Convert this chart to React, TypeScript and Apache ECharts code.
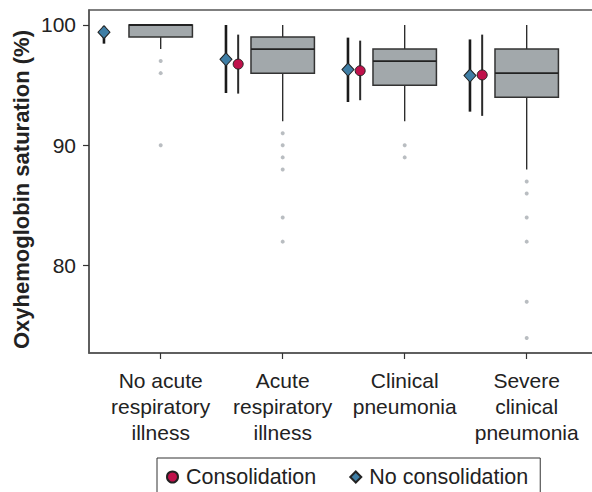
import React, { useEffect, useRef } from "react";
import * as echarts from "echarts";

const categories = [
  "No acute\nrespiratory\nillness",
  "Acute\nrespiratory\nillness",
  "Clinical\npneumonia",
  "Severe\nclinical\npneumonia",
];
const boxLow = [98, 92, 92, 88];
const boxQ1 = [99, 96, 95, 94];
const boxMedian = [100, 98, 97, 96];
const boxQ3 = [100, 99, 98, 98];
const boxHigh = [100, 100, 100, 100];
const outliers = [
  [97, 96, 90],
  [91, 90, 89, 88, 84, 82],
  [90, 89],
  [87, 86, 84, 82, 77, 74],
];
const consolidationMean = [null, 96.75, 96.2, 95.85];
const consolidationLow = [null, 94.3, 93.75, 92.45];
const consolidationHigh = [null, 99.2, 98.7, 99.2];
const noConsolidationMean = [99.4, 97.15, 96.3, 95.8];
const noConsolidationLow = [98.45, 94.35, 93.6, 92.8];
const noConsolidationHigh = [99.9, 100, 98.95, 98.8];
const yTicks = [80, 90, 100];
const yAxisTitle = "Oxyhemoglobin saturation (%)";

const FONT = "'Liberation Sans', Arial, Helvetica, sans-serif";
const DIAMOND_OFFSET = -0.465;
const CIRCLE_OFFSET = -0.365;
const BOX_WIDTH = 0.52;
const CIRCLE_COLOR = "#c0114b";
const DIAMOND_COLOR = "#3f7ea5";

export default function App() {
  const ref = useRef<HTMLDivElement>(null);
  useEffect(() => {
    if (!ref.current) return;
    const chart = echarts.init(ref.current, null, { renderer: "svg" });

    const boxData = categories.map((_, i) => [
      i,
      boxLow[i],
      boxQ1[i],
      boxMedian[i],
      boxQ3[i],
      boxHigh[i],
    ]);
    const outlierData: number[][] = [];
    outliers.forEach((arr, i) => arr.forEach((v) => outlierData.push([i, v])));

    const consData: any[] = [];
    const consBars: any[] = [];
    consolidationMean.forEach((m, i) => {
      if (m == null) return;
      consData.push([i + CIRCLE_OFFSET, m]);
      consBars.push([i + CIRCLE_OFFSET, consolidationLow[i], consolidationHigh[i]]);
    });
    const noConsData: any[] = [];
    const noConsBars: any[] = [];
    noConsolidationMean.forEach((m, i) => {
      noConsData.push([i + DIAMOND_OFFSET, m]);
      noConsBars.push([i + DIAMOND_OFFSET, noConsolidationLow[i], noConsolidationHigh[i]]);
    });

    const errRender = (width: number, color: string) => (params: any, api: any) => {
      const x = api.value(0);
      const a = api.coord([x, api.value(1)]);
      const b = api.coord([x, api.value(2)]);
      return {
        type: "line",
        shape: { x1: a[0], y1: a[1], x2: b[0], y2: b[1] },
        style: { stroke: color, lineWidth: width },
      };
    };

    const xMin = -0.5877;
    const xMax = 3.5598;

    chart.setOption({
      animation: false,
      textStyle: { fontFamily: FONT },
      grid: {
        left: 89,
        right: -3,
        top: 10,
        bottom: 139,
        show: true,
        borderColor: "#555",
        borderWidth: 1.5,
        backgroundColor: "transparent",
        outerBoundsMode: "none",
        containLabel: false,
      },
      graphic: [
        {
          type: "text",
          x: 21,
          y: 189.5,
          rotation: Math.PI / 2,
          style: {
            text: yAxisTitle,
            font: `bold 22px ${FONT}`,
            fill: "#222",
            align: "center",
            verticalAlign: "middle",
          },
        },
      ],
      legend: {
        left: 157,
        top: 458,
        orient: "horizontal",
        borderColor: "#333",
        borderWidth: 1,
        padding: [8, 12, 14, 9],
        itemGap: 33,
        itemWidth: 11,
        itemHeight: 11,
        textStyle: { fontSize: 21.5, color: "#222", fontFamily: FONT, padding: [0, 0, 0, 3] },
        data: [
          { name: "Consolidation", icon: "circle" },
          { name: "No consolidation", icon: "diamond" },
        ],
      },
      xAxis: {
        type: "value",
        min: xMin,
        max: xMax,
        splitLine: { show: false },
        axisLine: { show: true, onZero: false, lineStyle: { color: "#555", width: 1.5 } },
        axisTick: {
          show: true,
          customValues: [0, 1, 2, 3],
          length: 6,
          lineStyle: { color: "#333", width: 1.2 },
        },
        axisLabel: {
          show: true,
          customValues: [0, 1, 2, 3],
          formatter: (v: number) => categories[Math.round(v)] ?? "",
          fontSize: 21,
          lineHeight: 26,
          color: "#222",
          margin: 14,
          fontFamily: FONT,
        },
      },
      yAxis: {
        type: "value",
        min: 72.746,
        max: 101.246,
        splitLine: { show: false },
        axisLine: { show: true, onZero: false, lineStyle: { color: "#555", width: 1.5 } },
        axisTick: {
          show: true,
          customValues: yTicks,
          length: 6,
          lineStyle: { color: "#333", width: 1.2 },
        },
        axisLabel: {
          show: true,
          customValues: yTicks,
          fontSize: 21,
          color: "#222",
          margin: 13,
          fontFamily: FONT,
        },
      },
      series: [
        {
          name: "boxes",
          type: "custom",
          data: boxData,
          encode: { x: 0, y: [1, 2, 3, 4, 5] },
          z: 2,
          renderItem: (params: any, api: any) => {
            const x = api.value(0);
            const low = api.coord([x, api.value(1)]);
            const q1 = api.coord([x, api.value(2)]);
            const med = api.coord([x, api.value(3)]);
            const q3 = api.coord([x, api.value(4)]);
            const high = api.coord([x, api.value(5)]);
            const half = api.size([BOX_WIDTH, 0])[0] / 2;
            const cx = med[0];
            const children: any[] = [];
            if (high[1] < q3[1])
              children.push({
                type: "line",
                shape: { x1: cx, y1: high[1], x2: cx, y2: q3[1] },
                style: { stroke: "#222", lineWidth: 1.3 },
              });
            if (low[1] > q1[1])
              children.push({
                type: "line",
                shape: { x1: cx, y1: q1[1], x2: cx, y2: low[1] },
                style: { stroke: "#222", lineWidth: 1.3 },
              });
            children.push({
              type: "rect",
              shape: { x: cx - half, y: q3[1], width: half * 2, height: q1[1] - q3[1] },
              style: { fill: "#a2a8ab", stroke: "#333", lineWidth: 1.5 },
            });
            children.push({
              type: "line",
              shape: { x1: cx - half, y1: med[1], x2: cx + half, y2: med[1] },
              style: { stroke: "#222", lineWidth: 1.8 },
            });
            return { type: "group", children };
          },
        },
        {
          name: "outliers",
          type: "scatter",
          data: outlierData,
          symbol: "circle",
          symbolSize: 4,
          itemStyle: { color: "#a8adb1" },
          z: 2,
        },
        {
          name: "consBars",
          type: "custom",
          data: consBars,
          encode: { x: 0, y: [1, 2] },
          renderItem: errRender(2, "#2a2a2a"),
          z: 3,
        },
        {
          name: "noConsBars",
          type: "custom",
          data: noConsBars,
          encode: { x: 0, y: [1, 2] },
          renderItem: errRender(2.6, "#1a1a1a"),
          z: 3,
        },
        {
          name: "Consolidation",
          type: "scatter",
          data: consData,
          symbol: "circle",
          symbolSize: 10,
          itemStyle: { color: CIRCLE_COLOR, borderColor: "#222", borderWidth: 1, opacity: 1 },
          z: 4,
        },
        {
          name: "No consolidation",
          type: "scatter",
          data: noConsData,
          symbol: "diamond",
          symbolSize: [12, 13],
          itemStyle: { color: DIAMOND_COLOR, borderColor: "#222", borderWidth: 1, opacity: 1 },
          z: 4,
        },
      ],
    });
    return () => chart.dispose();
  }, []);
  return <div ref={ref} style={{ width: 592, height: 492, position: "absolute", left: 0, top: 0 }} />;
}
